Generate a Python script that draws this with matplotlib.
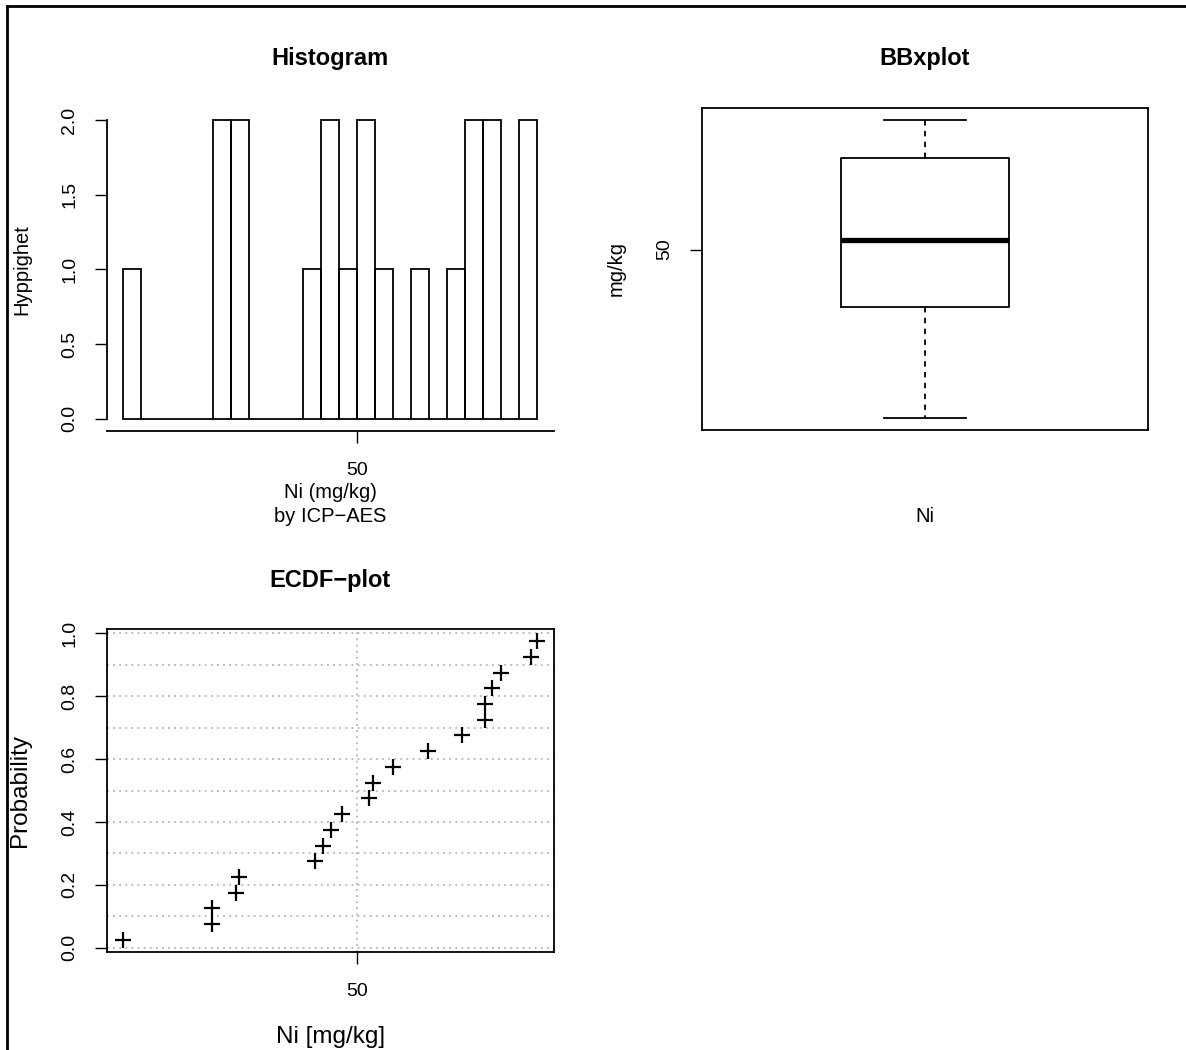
import matplotlib
matplotlib.use("Agg")
import matplotlib.pyplot as plt
from matplotlib.lines import Line2D
from matplotlib.ticker import FormatStrFormatter
import numpy as np

plt.rcParams['font.family'] = ['Liberation Sans', 'DejaVu Sans']

# Ni concentrations (mg/kg)
ni_values = [24.0, 33.8, 33.8, 36.5, 36.9, 45.3, 46.2, 47.1, 48.3, 51.3,
             51.7, 54.0, 57.9, 61.6, 64.2, 64.2, 65.0, 65.9, 69.3, 70.0]
# bar heights of the histogram (23 equal bins from min to max)
hist_counts = [1, 0, 0, 0, 0, 2, 2, 0, 0, 0, 1, 2, 1, 2, 1, 0, 1, 0, 1, 2, 2, 0, 2]
x_ticks = [50]
freq_ticks = [0.0, 0.5, 1.0, 1.5, 2.0]
prob_ticks = [0.0, 0.2, 0.4, 0.6, 0.8, 1.0]
prob_grid = [0.0, 0.1, 0.2, 0.3, 0.4, 0.5, 0.6, 0.7, 0.8, 0.9, 1.0]

W, H = 1186, 1050
fig = plt.figure(figsize=(W / 100, H / 100), dpi=100)


def rect(l, t, r, b):
    # pixel box (from top-left) -> figure fraction
    return [l / W, 1 - b / H, (r - l) / W, (b - t) / H]


def ftext(x, y, s, ha='center', **kw):
    fig.text(x / W, 1 - y / H, s, ha=ha, va='center', **kw)


LW = 1.3
tick_kw = dict(length=8.6, width=1.0, labelsize=14, color='black')

vals = np.sort(np.array(ni_values))
span = vals.max() - vals.min()
lims = (vals.min() - 0.04 * span, vals.max() + 0.04 * span)

# ---- histogram ----
ax1 = fig.add_axes(rect(106.7, 108, 554, 430.7))
edges = np.linspace(vals.min(), vals.max(), len(hist_counts) + 1)
ax1.bar(edges[:-1], hist_counts, width=np.diff(edges), align='edge',
        fill=False, edgecolor='black', linewidth=LW)
ax1.set_xlim(*lims)
ax1.set_ylim(-0.08, 2.08)
ax1.spines[['top', 'right']].set_visible(False)
ax1.spines['left'].set_bounds(0, 2)
for s in ['left', 'bottom']:
    ax1.spines[s].set_linewidth(LW)
ax1.set_xticks(x_ticks)
ax1.set_yticks(freq_ticks)
ax1.yaxis.set_major_formatter(FormatStrFormatter('%.1f'))
ax1.tick_params(axis='x', pad=14, **tick_kw)
ax1.tick_params(axis='y', pad=12, **tick_kw)
for lab in ax1.get_yticklabels():
    lab.set_rotation(90)
    lab.set_va('center')

ftext(330.3, 58, 'Histogram', fontsize=17, fontweight='bold')
ftext(21.7, 269.3, 'Hyppighet', fontsize=14.5, rotation=90)
ftext(330.3, 493, 'Ni (mg/kg)', fontsize=14.5)
ftext(330.3, 517, 'by ICP\u2212AES', fontsize=14.5)

# ---- boxplot (R style hinges) ----
def fivenum(x):
    n = len(x)
    n4 = np.floor((n + 3) / 2) / 2
    d = np.array([1, n4, (n + 1) / 2, n + 1 - n4, n])
    return 0.5 * (x[np.floor(d).astype(int) - 1] + x[np.ceil(d).astype(int) - 1])

fn = fivenum(vals)
stats = [dict(whislo=fn[0], q1=fn[1], med=fn[2], q3=fn[3], whishi=fn[4], fliers=[])]
ax2 = fig.add_axes(rect(702, 108, 1148, 430))
ax2.bxp(stats, positions=[1], widths=0.405, capwidths=0.2, showfliers=False,
        boxprops=dict(linewidth=LW, color='black'),
        medianprops=dict(linewidth=3.8, color='black', solid_capstyle='butt'),
        whiskerprops=dict(linewidth=LW, color='black', linestyle=(0, (3, 3))),
        capprops=dict(linewidth=LW, color='black'))
ax2.set_xlim(0.46, 1.54)
ax2.set_ylim(*lims)
for s in ax2.spines.values():
    s.set_linewidth(LW)
ax2.set_xticks([])
ax2.set_yticks(x_ticks)
ax2.tick_params(axis='y', pad=12, **tick_kw)
for lab in ax2.get_yticklabels():
    lab.set_rotation(90)
    lab.set_va('center')

# title as it reads in the reference (garbled "Boxplot")
ftext(925, 58, 'BBxplot', fontsize=17, fontweight='bold')
ftext(616, 269, 'mg/kg', fontsize=14.5, rotation=90)
ftext(925, 517, 'Ni', fontsize=14.5)

# ---- ECDF ----
ax3 = fig.add_axes(rect(106.7, 629.3, 554, 951.7))
probs = (np.arange(1, len(vals) + 1) - 0.5) / len(vals)
for g in prob_grid:
    ax3.axhline(g, color='#a8a8a8', lw=1.1, linestyle=(0, (1.2, 2.8)), zorder=1)
for g in x_ticks:
    ax3.axvline(g, color='#a8a8a8', lw=1.1, linestyle=(0, (1.2, 2.8)), zorder=1)
ax3.plot(vals, probs, linestyle='none', marker='+', markersize=11,
         markeredgewidth=1.6, color='black', zorder=3)
ax3.set_xlim(*lims)
ax3.set_ylim(-0.0127, 1.0127)
for s in ax3.spines.values():
    s.set_linewidth(LW)
ax3.set_xticks(x_ticks)
ax3.set_yticks(prob_ticks)
ax3.yaxis.set_major_formatter(FormatStrFormatter('%.1f'))
ax3.tick_params(axis='x', pad=14, **tick_kw)
ax3.tick_params(axis='y', pad=12, **tick_kw)
for lab in ax3.get_yticklabels():
    lab.set_rotation(90)
    lab.set_va('center')

ftext(330.3, 580, 'ECDF\u2212plot', fontsize=17, fontweight='bold')
ftext(20, 790.5, 'Probability', fontsize=17.5, rotation=90)
ftext(330.3, 1036.7, 'Ni [mg/kg]', fontsize=17.5)

# page frame on the left and top
fig.add_artist(Line2D([7 / W, 7 / W], [1 - 6 / H, 0], color='black', lw=2))
fig.add_artist(Line2D([7 / W, 1], [1 - 6 / H, 1 - 6 / H], color='black', lw=2))

fig.savefig('out.png', dpi=100)
